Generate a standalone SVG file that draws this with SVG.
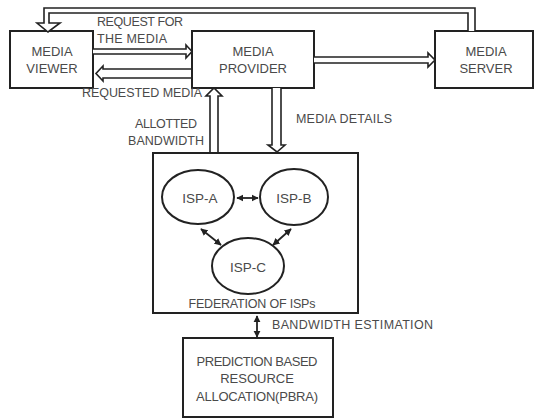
<svg xmlns="http://www.w3.org/2000/svg" width="536" height="419" viewBox="0 0 536 419">
<defs>
<style>
.box{fill:#fff;stroke:#222;stroke-width:2}
.ell{fill:#fff;stroke:#222;stroke-width:2}
.blk{fill:#fff;stroke:#222;stroke-width:1.6;stroke-linejoin:miter}
.t{font-family:"Liberation Sans",Arial,sans-serif;font-size:13px;fill:#4a4a4a;text-anchor:middle}
.l{font-family:"Liberation Sans",Arial,sans-serif;font-size:12.5px;fill:#4a4a4a}
.dbl{stroke:#222;stroke-width:1.8;fill:none;marker-start:url(#ah);marker-end:url(#ah)}
</style>
<marker id="ah" viewBox="0 0 10 10" refX="9" refY="5" markerWidth="4" markerHeight="4" orient="auto-start-reverse">
<path d="M0,0 L10,5 L0,10 z" fill="#222"/>
</marker>
</defs>
<g id="media-viewer">
<rect class="box" x="10" y="31" width="83" height="57"/>
<text class="t" x="52" y="56">MEDIA</text>
<text class="t" x="52" y="73">VIEWER</text>
</g>
<g id="media-provider">
<rect class="box" x="192" y="31" width="122" height="57"/>
<text class="t" x="253" y="56">MEDIA</text>
<text class="t" x="253" y="73">PROVIDER</text>
</g>
<g id="media-server">
<rect class="box" x="435" y="31" width="98" height="57"/>
<text class="t" x="486" y="56">MEDIA</text>
<text class="t" x="486" y="73">SERVER</text>
</g>
<g id="federation">
<rect class="box" x="153" y="153" width="205" height="160"/>
<text class="l" x="252" y="308" text-anchor="middle" textLength="127">FEDERATION OF ISPs</text>
</g>
<g id="isp-a">
<ellipse class="ell" cx="198" cy="197" rx="36" ry="27"/>
<text class="t" x="200" y="203" style="font-size:13.5px">ISP-A</text>
</g>
<g id="isp-b">
<ellipse class="ell" cx="294" cy="197" rx="34" ry="28"/>
<text class="t" x="294" y="203" style="font-size:13.5px">ISP-B</text>
</g>
<g id="isp-c">
<ellipse class="ell" cx="248" cy="266" rx="36" ry="28"/>
<text class="t" x="248" y="272" style="font-size:13.5px">ISP-C</text>
</g>
<g id="pbra">
<rect class="box" x="183" y="338" width="150" height="79"/>
<text class="t" x="257" y="366" textLength="121">PREDICTION BASED</text>
<text class="t" x="257" y="383">RESOURCE</text>
<text class="t" x="257" y="401" textLength="122">ALLOCATION(PBRA)</text>
</g>
<g id="connectors">
<path class="blk" d="M475,31 V8 H44 V23 H37 L48,32 L60,23 H49 V13 H468 V31"/>
<path class="blk" d="M93,49 H186 V45 L192,51.5 L186,58 V54 H93"/>
<path class="blk" d="M191,69 H103 V66 L96,73.5 L103,81 V78 H191"/>
<path class="blk" d="M314,57 H428 V53 L435,60 L428,67 V63 H314"/>
<path class="blk" d="M210,152 V96 H206 L214,88 L222,96 H218 V152"/>
<path class="blk" d="M272,88 V145 H268 L277,152 L285,145 H281 V88"/>
<line class="dbl" x1="237" y1="198" x2="258" y2="198"/>
<line class="dbl" x1="201" y1="229" x2="221" y2="245"/>
<line class="dbl" x1="291" y1="229" x2="273" y2="245"/>
<line class="dbl" x1="257" y1="316" x2="257" y2="337"/>
<text class="l" x="97" y="26" textLength="86">REQUEST FOR</text>
<text class="l" x="97" y="43" textLength="70">THE MEDIA</text>
<text class="l" x="82" y="97" textLength="120">REQUESTED MEDIA</text>
<text class="l" x="135" y="128" textLength="62">ALLOTTED</text>
<text class="l" x="128" y="145" textLength="76">BANDWIDTH</text>
<text class="l" x="296" y="123" textLength="96">MEDIA DETAILS</text>
<text class="l" x="272" y="329" textLength="161">BANDWIDTH ESTIMATION</text>
</g>
</svg>
